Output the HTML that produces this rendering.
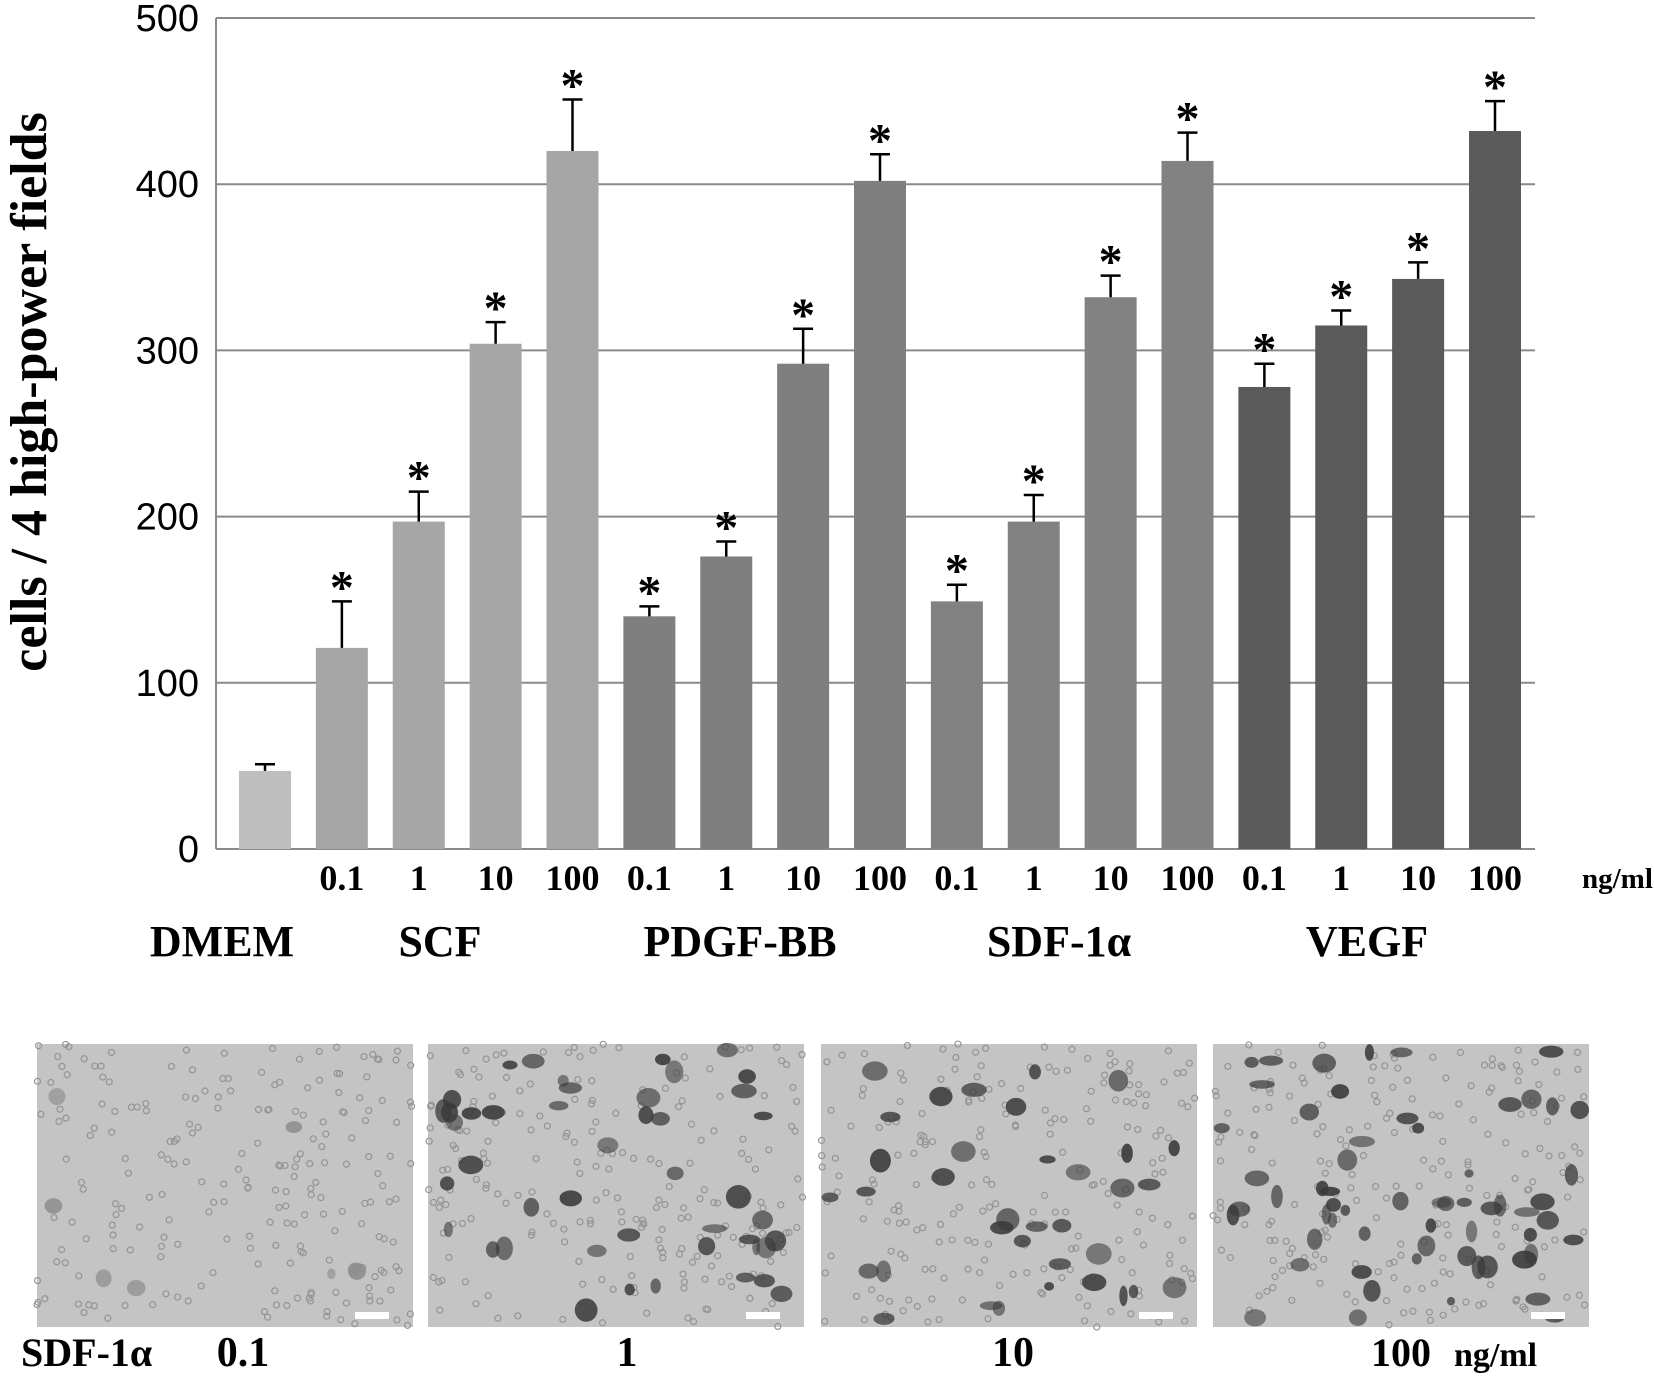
<!DOCTYPE html>
<html><head><meta charset="utf-8"><style>
html,body{margin:0;padding:0;background:#fff;}
svg{display:block;}
.t{font-family:"Liberation Serif",serif;font-weight:bold;fill:#000;}
.tk{font-family:"Liberation Sans",sans-serif;fill:#000;font-size:38px;}
</style></head><body>
<svg id="chart" width="1654" height="1380" viewBox="0 0 1654 1380" xmlns="http://www.w3.org/2000/svg">
<g id="grid"></g>
<g id="bars"></g>
<g id="labels"></g>
<text class="t" font-size="52" transform="translate(46,392) rotate(-90)" text-anchor="middle">cells / 4 high-power fields</text>
<text class="t" font-size="29" x="1582" y="888">ng/ml</text>
<text class="t" font-size="44" x="222" y="956" text-anchor="middle">DMEM</text>
<text class="t" font-size="44" x="440" y="956" text-anchor="middle">SCF</text>
<text class="t" font-size="44" x="740" y="956" text-anchor="middle">PDGF-BB</text>
<text class="t" font-size="44" x="1059" y="956" text-anchor="middle">SDF-1α</text>
<text class="t" font-size="44" x="1367" y="956" text-anchor="middle">VEGF</text>
<g id="photos"></g>
<text class="t" font-size="40" x="21" y="1366">SDF-1α</text>
<text class="t" font-size="42" x="243" y="1366" text-anchor="middle">0.1</text>
<text class="t" font-size="42" x="627" y="1366" text-anchor="middle">1</text>
<text class="t" font-size="42" x="1013" y="1366" text-anchor="middle">10</text>
<text class="t" font-size="40" x="1371" y="1366">100</text>
<text class="t" font-size="34" x="1454" y="1366">ng/ml</text>
</svg>
<script>
const categories=["","0.1","1","10","100","0.1","1","10","100","0.1","1","10","100","0.1","1","10","100"];
const groups=["DMEM","SCF","SCF","SCF","SCF","PDGF","PDGF","PDGF","PDGF","SDF","SDF","SDF","SDF","VEGF","VEGF","VEGF","VEGF"];
const values=[47,121,197,304,420,140,176,292,402,149,197,332,414,278,315,343,432];
const errors=[4,28,18,13,31,6,9,21,16,10,16,13,17,14,9,10,18];
const stars=[false,true,true,true,true,true,true,true,true,true,true,true,true,true,true,true,true];
const yTicks=[0,100,200,300,400,500];
const colors={DMEM:"#bebebe",SCF:"#a6a6a6",PDGF:"#7f7f7f",SDF:"#828282",VEGF:"#5a5a5a"};
const NS="http://www.w3.org/2000/svg";
const X0=216,X1=1535,Y0=849,Y500=18;
const FIRST=265,LAST=1495;
const step=(LAST-FIRST)/(values.length-1);
const y=v=>Y0-(v/500)*(Y0-Y500);
const xc=i=>FIRST+step*i;
function mk(tag,attrs,parent){const e=document.createElementNS(NS,tag);for(const k in attrs)e.setAttribute(k,attrs[k]);parent.appendChild(e);return e;}
const grid=document.getElementById('grid');
yTicks.forEach(t=>{
  const l=mk('line',{x1:X0,x2:X1,y1:y(t),y2:y(t),stroke:'#8a8a8a','stroke-width':2},grid);
  
  
  const tx=mk('text',{x:199,y:y(t)+13,'text-anchor':'end',class:'tk'},grid);
  tx.textContent=t;
  
  
});
const ax=mk('line',{x1:X0,x2:X0,y1:Y500,y2:Y0,stroke:'#8a8a8a','stroke-width':2},grid);


const bars=document.getElementById('bars'),labs=document.getElementById('labels');
const bw=52;
values.forEach((v,i)=>{
  const cx=xc(i);
  const r=mk('rect',{x:cx-bw/2,y:y(v),width:bw,height:Y0-y(v),fill:colors[groups[i]]},bars);
  
  
  const top=y(v+errors[i]);
  const e=mk('path',{d:`M${cx} ${y(v)}V${top}M${cx-10} ${top}H${cx+10}`,stroke:'#000','stroke-width':2.5,fill:'none'},bars);
  
  
  if(stars[i]){const s=mk('text',{x:cx,y:top+2,'text-anchor':'middle','font-size':48,class:'t'},bars);s.textContent='*';
    
    }
  if(categories[i]){const t=mk('text',{x:cx,y:890,'text-anchor':'middle','font-size':36,class:'t'},labs);t.textContent=categories[i];
    
    }
});
const photos=document.getElementById('photos');
const px=[37,428,821,1213],blobs=[8,45,35,60];
let seed=7;const rnd=()=>{seed=(seed*16807)%2147483647;return seed/2147483647;};
px.forEach((x,k)=>{
  const g=mk('g',{},photos);
  
  
  mk('rect',{x:x,y:1044,width:376,height:283,fill:'#c4c4c4'},g);
  for(let j=0;j<220;j++)mk('circle',{cx:x+rnd()*376,cy:1044+rnd()*283,r:3,fill:'none',stroke:'#949494','stroke-width':1.2},g);
  for(let j=0;j<blobs[k];j++)mk('ellipse',{cx:x+8+rnd()*360,cy:1050+rnd()*270,rx:4+rnd()*(k?9:6),ry:4+rnd()*(k?8:6),fill:k?'#3a3a3a':'#8c8c8c',opacity:0.55+rnd()*0.35},g);
  mk('rect',{x:x+318,y:1312,width:34,height:7,fill:'#fff'},g);
});
</script>
</body></html>
